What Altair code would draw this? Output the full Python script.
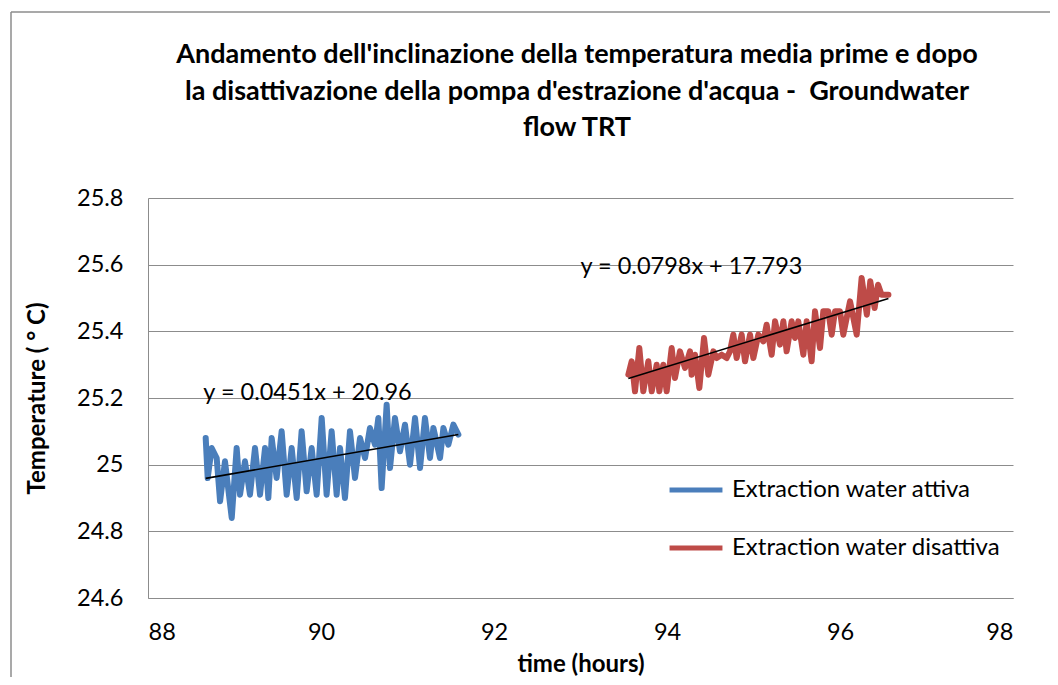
import altair as alt
import pandas as pd

series_names = ["Extraction water attiva", "Extraction water disattiva"]
series_colors = ["#4a7ebb", "#be4b48"]

blue_x = [88.667, 88.690, 88.736, 88.794, 88.833, 88.890, 88.968, 89.025, 89.064, 89.121,
          89.179, 89.237, 89.295, 89.353, 89.391, 89.430, 89.487, 89.545, 89.603, 89.661,
          89.719, 89.776, 89.834, 89.892, 89.950, 90.008, 90.065, 90.123, 90.181, 90.220,
          90.277, 90.335, 90.393, 90.451, 90.509, 90.566, 90.624, 90.663, 90.701, 90.759,
          90.798, 90.855, 90.913, 90.971, 91.029, 91.087, 91.145, 91.202, 91.260, 91.299,
          91.376, 91.415, 91.472, 91.530, 91.588]
blue_y = [25.08, 24.96, 25.05, 25.02, 24.89, 25.01, 24.84, 25.05, 24.91, 25.01,
          24.91, 25.05, 24.91, 25.05, 24.90, 25.08, 24.96, 25.10, 24.91, 25.05,
          24.90, 25.10, 24.92, 25.05, 24.91, 25.14, 24.91, 25.10, 24.91, 25.05,
          24.90, 25.10, 24.96, 25.08, 25.02, 25.11, 25.06, 25.14, 24.93, 25.18,
          24.99, 25.14, 25.04, 25.12, 25.00, 25.14, 24.99, 25.14, 25.02, 25.11,
          25.02, 25.11, 25.06, 25.12, 25.09]

red_x = [93.553, 93.592, 93.630, 93.680, 93.726, 93.784, 93.823, 93.881, 93.911, 93.957,
         93.996, 94.054, 94.092, 94.150, 94.208, 94.266, 94.285, 94.324, 94.374, 94.428,
         94.478, 94.536, 94.574, 94.632, 94.690, 94.728, 94.767, 94.805, 94.863, 94.902,
         94.960, 94.998, 95.056, 95.114, 95.152, 95.210, 95.249, 95.306, 95.345, 95.383,
         95.441, 95.480, 95.518, 95.576, 95.615, 95.672, 95.711, 95.769, 95.807, 95.865,
         95.904, 95.942, 96.000, 96.038, 96.116, 96.193, 96.250, 96.310, 96.350, 96.400,
         96.440, 96.480, 96.560]
red_y = [25.27, 25.31, 25.22, 25.35, 25.22, 25.31, 25.22, 25.30, 25.22, 25.30,
         25.22, 25.35, 25.26, 25.34, 25.29, 25.34, 25.27, 25.33, 25.23, 25.38,
         25.27, 25.34, 25.32, 25.33, 25.32, 25.34, 25.39, 25.32, 25.39, 25.31,
         25.39, 25.32, 25.39, 25.37, 25.42, 25.33, 25.43, 25.36, 25.43, 25.34,
         25.43, 25.38, 25.43, 25.33, 25.43, 25.31, 25.46, 25.35, 25.46, 25.46,
         25.39, 25.46, 25.46, 25.39, 25.49, 25.39, 25.56, 25.45, 25.55, 25.47,
         25.54, 25.51, 25.51]

slopes = [0.0451, 0.0798]
intercepts = [20.96, 17.793]
eq_labels = ["y = 0.0451x + 20.96", "y = 0.0798x + 17.793"]
eq_x = [88.64, 93.0]
eq_y = [25.215, 25.593]

x_ticks = [88, 90, 92, 94, 96, 98]
y_ticks = [24.6, 24.8, 25.0, 25.2, 25.4, 25.6, 25.8]

title_lines = [
    "Andamento dell'inclinazione della temperatura media prime e dopo",
    "la disattivazione della pompa d'estrazione d'acqua -\u00a0 Groundwater",
    "flow TRT",
]

FONT = "Lato"

rows = []
for xs, ys, name in [(blue_x, blue_y, series_names[0]), (red_x, red_y, series_names[1])]:
    for xv, yv in zip(xs, ys):
        rows.append({"time": xv, "temp": yv, "series": name})
df = pd.DataFrame(rows)

trend_rows = []
for xs, s, b, name in [(blue_x, slopes[0], intercepts[0], series_names[0]),
                       (red_x, slopes[1], intercepts[1], series_names[1])]:
    for xv in (min(xs), max(xs)):
        trend_rows.append({"time": xv, "temp": s * xv + b, "series": name})
trend_df = pd.DataFrame(trend_rows)

eq_df = pd.DataFrame({"time": eq_x, "temp": eq_y, "label": eq_labels})
title_df = pd.DataFrame({"title": ["\n".join(title_lines)]})

xscale = alt.Scale(domain=[88, 98], nice=False, zero=False)
yscale = alt.Scale(domain=[24.6, 25.8], nice=False, zero=False)

x_axis = alt.Axis(values=x_ticks, format="~g", title="time (hours)", grid=False, ticks=False,
                  domain=True, domainColor="#8c8c8c", labelPadding=22,
                  titlePadding=9)
y_axis = alt.Axis(values=y_ticks, format="~g", title="Temperature ( \u00b0 C)",
                  grid=True, gridColor="#8c8c8c", ticks=False, domain=True,
                  domainColor="#8c8c8c", labelPadding=25, titlePadding=27)

lines = alt.Chart(df).mark_line(strokeWidth=6, strokeJoin="round", strokeCap="round").encode(
    x=alt.X("time:Q", scale=xscale, axis=x_axis),
    y=alt.Y("temp:Q", scale=yscale, axis=y_axis),
    color=alt.Color("series:N",
                    scale=alt.Scale(domain=series_names, range=series_colors),
                    legend=alt.Legend(title=None, orient="none", legendX=519, legendY=263,
                                      symbolType="stroke", symbolSize=2800,
                                      symbolStrokeWidth=5, labelFont=FONT,
                                      labelFontSize=24, labelColor="black",
                                      labelLimit=500, labelOffset=7, rowPadding=17)),
)

trend = alt.Chart(trend_df).mark_line(color="black", strokeWidth=1.6).encode(
    x=alt.X("time:Q", scale=xscale),
    y=alt.Y("temp:Q", scale=yscale),
    detail="series:N",
)

eqs = alt.Chart(eq_df).mark_text(align="left", baseline="middle", font=FONT,
                                 fontSize=23.5, color="black").encode(
    x=alt.X("time:Q", scale=xscale),
    y=alt.Y("temp:Q", scale=yscale),
    text="label:N",
)

title_mark = alt.Chart(title_df).mark_text(
    align="center", baseline="alphabetic", font=FONT, fontSize=27, fontWeight="bold",
    color="black", lineBreak="\n", lineHeight=36.5,
).encode(x=alt.value(429), y=alt.value(-135), text="title:N")

one = pd.DataFrame({"k": [0]})
border_left = alt.Chart(one).mark_rule(color="#8c8c8c", strokeWidth=1.5).encode(
    x=alt.value(-137), y=alt.value(-186), y2=alt.value(480))
border_top = alt.Chart(one).mark_rule(color="#8c8c8c", strokeWidth=1.5).encode(
    x=alt.value(-137), x2=alt.value(920), y=alt.value(-186))

chart = alt.layer(lines, trend, eqs, title_mark, border_left, border_top).properties(
    width=865,
    height=400,
    autosize=alt.AutoSizeParams(type="none"),
    padding={"left": 140, "top": 190, "right": 37, "bottom": 79},
).configure_view(stroke=None).configure_axis(
    labelFont=FONT, labelFontSize=23.5, labelColor="black",
    titleFont=FONT, titleFontSize=24, titleFontWeight="bold", titleColor="black",
)

chart.save("out.html", embed_options={"renderer": "svg", "actions": False})
